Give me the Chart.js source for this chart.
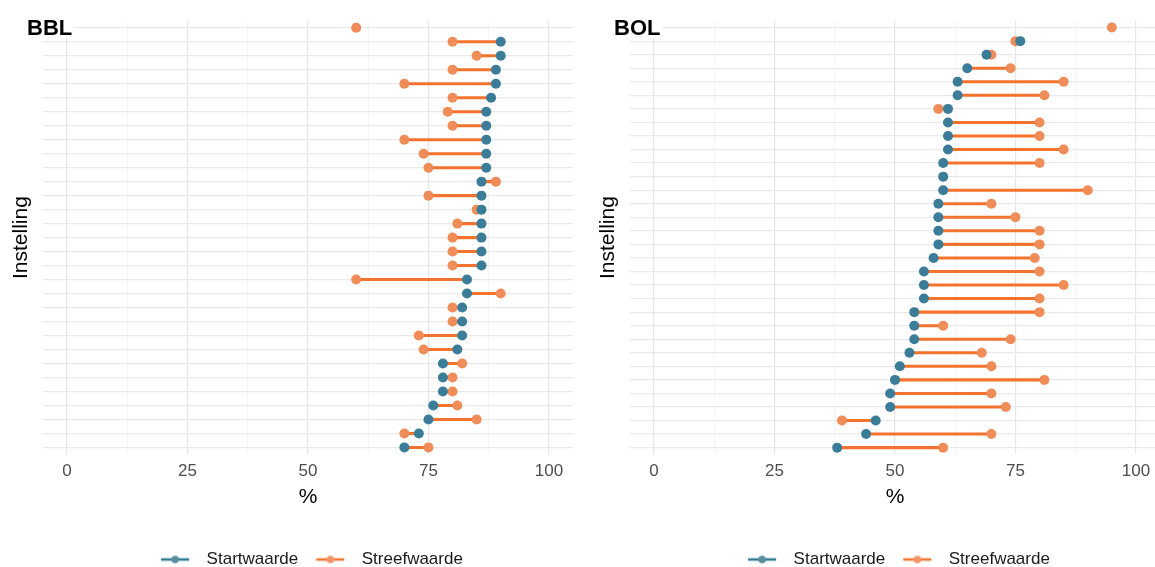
<!DOCTYPE html>
<html>
<head>
<meta charset="utf-8">
<script src="https://cdn.jsdelivr.net/npm/chart.js@4.4.1/dist/chart.umd.min.js"></script>
<style>
    html, body { margin: 0; padding: 0; background: #fff; overflow: hidden; width: 1155px; height: 567px; }
    .panel { position: absolute; top: 0; width: 578px; height: 578px; }
    #bblWrap { left: 0; }
    #bolWrap { left: 587px; }
</style>
</head>
<body>
<div class="panel" id="bblWrap"><canvas id="bblChart" width="578" height="578"></canvas></div>
<div class="panel" id="bolWrap"><canvas id="bolChart" width="578" height="578"></canvas></div>
<script>
// Data (rows top to bottom)
const bblStart = [null, 90, 90, 89, 89, 88, 87, 87, 87, 87, 87, 86, 86, 86, 86, 86, 86, 86, 83, 83, 82, 82, 82, 81, 78, 78, 78, 76, 75, 73, 70];
const bblGoal  = [60, 80, 85, 80, 70, 80, 79, 80, 70, 74, 75, 89, 75, 85, 81, 80, 80, 80, 60, 90, 80, 80, 73, 74, 82, 80, 80, 81, 85, 70, 75];

const bolStart = [null, 76, 69, 65, 63, 63, 61, 61, 61, 61, 60, 60, 60, 59, 59, 59, 59, 58, 56, 56, 56, 54, 54, 54, 53, 51, 50, 49, 49, 46, 44, 38];
const bolGoal  = [95, 75, 70, 74, 85, 81, 59, 80, 80, 85, 80, null, 90, 70, 75, 80, 80, 79, 80, 85, 80, 80, 60, 74, 68, 70, 81, 70, 73, 39, 70, 60];

const xMajorTicks = [0, 25, 50, 75, 100];
const xMinorTicks = [12.5, 37.5, 62.5, 87.5];
const seriesNames = ['Startwaarde', 'Streefwaarde'];

const tealColor = '#3b7d99';
const orangePoint = '#f08c58';
const orangeLine = '#f3732e';

Chart.defaults.font.family = "'Liberation Sans', Arial, sans-serif";

// legend symbol: a short line with a dot in the middle
function legendSymbol(lineColor, dotColor) {
    const c = document.createElement('canvas');
    c.width = 45;
    c.height = 12;
    const g = c.getContext('2d');
    g.strokeStyle = lineColor;
    g.lineWidth = 2.5;
    g.beginPath();
    g.moveTo(8, 6);
    g.lineTo(36, 6);
    g.stroke();
    g.fillStyle = dotColor;
    g.beginPath();
    g.arc(22, 6, 3.8, 0, Math.PI * 2);
    g.fill();
    return c;
}
const symbols = [legendSymbol('#2c7a90', '#5a8c9e'), legendSymbol(orangeLine, '#f2936a')];

const panelTitle = {
    id: 'panelTitle',
    afterDraw(chart, args, opts) {
        const ctx = chart.ctx;
        ctx.save();
        ctx.font = "bold 22px 'Liberation Sans', Arial, sans-serif";
        const w = ctx.measureText(opts.text).width;
        ctx.fillStyle = '#fff';
        ctx.fillRect(25, 15, w + 4, 23);
        ctx.fillStyle = '#000';
        ctx.textBaseline = 'alphabetic';
        ctx.fillText(opts.text, 27, 34.5);
        ctx.restore();
    }
};

function makePanel(canvasId, title, starts, goals) {
    const labels = starts.map((_, i) => 'Instelling ' + (i + 1));
    const segments = starts.map((s, i) => (s === null || goals[i] === null) ? null : [s, goals[i]]);
    const xTicks = xMajorTicks.concat(xMinorTicks).sort((a, b) => a - b);

    return new Chart(document.getElementById(canvasId).getContext('2d'), {
        type: 'bar',
        data: {
            labels: labels,
            datasets: [
                {
                    type: 'line',
                    label: seriesNames[0],
                    indexAxis: 'y',
                    data: starts,
                    showLine: false,
                    pointRadius: 5,
                    pointHoverRadius: 5,
                    pointBorderWidth: 0,
                    pointBackgroundColor: tealColor,
                    borderColor: tealColor,
                    order: 0
                },
                {
                    type: 'line',
                    label: seriesNames[1],
                    indexAxis: 'y',
                    data: goals,
                    showLine: false,
                    pointRadius: 5,
                    pointHoverRadius: 5,
                    pointBorderWidth: 0,
                    pointBackgroundColor: orangePoint,
                    borderColor: orangePoint,
                    order: 1
                },
                {
                    type: 'bar',
                    label: 'segment',
                    indexAxis: 'y',
                    data: segments,
                    backgroundColor: orangeLine,
                    borderWidth: 0,
                    borderSkipped: false,
                    barThickness: 2.4,
                    order: 2
                }
            ]
        },
        options: {
            indexAxis: 'y',
            responsive: false,
            animation: false,
            layout: { padding: { top: 20.8, left: 4, right: 2.7, bottom: 0 } },
            scales: {
                x: {
                    type: 'linear',
                    min: -5,
                    max: 105,
                    afterBuildTicks: (scale) => { scale.ticks = xTicks.map(v => ({ value: v })); },
                    ticks: {
                        autoSkip: false,
                        maxRotation: 0,
                        padding: 7,
                        color: '#4d4d4d',
                        font: { size: 17 },
                        callback: (v) => xMajorTicks.includes(v) ? String(v) : ''
                    },
                    grid: {
                        drawTicks: false,
                        color: (c) => xMajorTicks.includes(c.tick && c.tick.value) ? '#e6e6e6' : '#f1f1f1',
                        lineWidth: (c) => xMajorTicks.includes(c.tick && c.tick.value) ? 1.2 : 0.7
                    },
                    border: { display: false },
                    title: {
                        display: true,
                        text: '%',
                        color: '#000',
                        font: { size: 21 },
                        padding: { top: -4.4, bottom: 31.4 }
                    }
                },
                y: {
                    type: 'category',
                    offset: true,
                    ticks: { display: false },
                    grid: { offset: false, drawTicks: false, color: '#e9e9e9', lineWidth: 1.2 },
                    border: { display: false },
                    title: {
                        display: true,
                        text: 'Instelling',
                        color: '#000',
                        font: { size: 21 },
                        padding: { top: 4.4, bottom: 9.4 }
                    }
                }
            },
            plugins: {
                tooltip: { enabled: false },
                panelTitle: { text: title },
                legend: {
                    position: 'bottom',
                    fullSize: false,
                    labels: {
                        usePointStyle: true,
                        pointStyleWidth: 45,
                        padding: 10,
                        color: '#1a1a1a',
                        font: { size: 17 },
                        generateLabels: () => seriesNames.map((name, i) => ({
                            text: name,
                            pointStyle: symbols[i],
                            fillStyle: 'transparent',
                            strokeStyle: 'transparent',
                            lineWidth: 0,
                            fontColor: '#1a1a1a',
                            datasetIndex: i
                        }))
                    }
                }
            }
        },
        plugins: [panelTitle]
    });
}

makePanel('bblChart', 'BBL', bblStart, bblGoal);
makePanel('bolChart', 'BOL', bolStart, bolGoal);
</script>
</body>
</html>
